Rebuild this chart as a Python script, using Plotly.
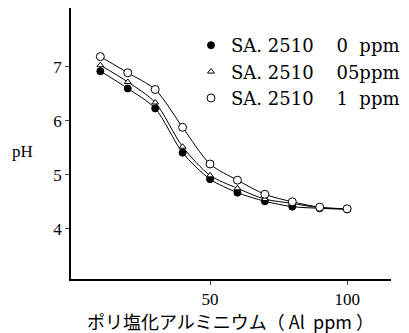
import plotly.graph_objects as go

x_al = [10, 20, 30, 40, 50, 60, 70, 80, 90, 100]
ph_0ppm = [6.92, 6.60, 6.23, 5.41, 4.92, 4.67, 4.51, 4.41, 4.38, 4.36]
ph_05ppm = [7.03, 6.72, 6.34, 5.52, 4.99, 4.75, 4.55, 4.47, 4.39, 4.37]
ph_1ppm = [7.19, 6.89, 6.58, 5.88, 5.20, 4.90, 4.64, 4.50, 4.40, 4.37]

legend_names = ["SA.\u00a02510\u00a0\u00a0\u00a0\u00a00\u00a0\u00a0ppm",
                "SA.\u00a02510\u00a0\u00a0\u00a0\u00a005ppm",
                "SA.\u00a02510\u00a0\u00a0\u00a0\u00a01\u00a0\u00a0ppm"]
x_ticks = [50, 100]
y_ticks = [4, 5, 6, 7]

series = [
    (ph_0ppm, "circle", "black", 7),
    (ph_05ppm, "triangle-up", "white", 6),
    (ph_1ppm, "circle", "white", 8),
]

fig = go.Figure()
for (ys, sym, fill, sz), name in zip(series, legend_names):
    fig.add_trace(go.Scatter(
        x=x_al, y=ys, mode="lines+markers",
        line=dict(color="black", width=1, shape="spline", smoothing=0.8),
        marker=dict(symbol=sym, color=fill, size=sz,
                    line=dict(color="black", width=1)),
        showlegend=False))
for (ys, sym, fill, sz), name in zip(series, legend_names):
    fig.add_trace(go.Scatter(
        x=[None], y=[None], mode="markers", name=name,
        marker=dict(symbol=sym, color=fill, size=sz,
                    line=dict(color="black", width=1))))

serif = "Liberation Serif, DejaVu Serif, serif"
fig.update_layout(
    width=401, height=325,
    margin=dict(l=63, r=18, t=0, b=54, autoexpand=False),
    paper_bgcolor="white", plot_bgcolor="white",
    font=dict(family=serif, size=15, color="black"),
    showlegend=True,
    legend=dict(x=0.375, y=0.93, xanchor="left", yanchor="top",
                bgcolor="rgba(0,0,0,0)", font=dict(family="DejaVu Serif", size=18),
                itemwidth=30, tracegroupgap=0),
    xaxis=dict(range=[-0.7, 116], tickvals=x_ticks, ticks="outside", ticklen=4,
               showline=True, linecolor="black", linewidth=1.5, showgrid=False,
               zeroline=False, automargin=False, tickfont=dict(family=serif, size=17)),
    yaxis=dict(range=[3.07, 8.09], tickvals=y_ticks, ticks="outside", ticklen=4,
               showline=True, linecolor="black", linewidth=1.5, showgrid=False,
               zeroline=False, automargin=False, tickfont=dict(family=serif, size=17)),
    annotations=[
        dict(text="pH", xref="paper", yref="paper", x=-0.153, y=0.469,
             xanchor="center", yanchor="middle", showarrow=False,
             font=dict(family=serif, size=17)),
        dict(text="ポリ塩化アルミニウム（\u00a0Al\u00a0\u00a0ppm\u00a0）", xref="paper", yref="paper",
             x=0.497, y=-0.155, xanchor="center", yanchor="middle", showarrow=False,
             font=dict(family="Noto Sans CJK JP", size=18)),
    ],
)
fig.write_html("out.html")
